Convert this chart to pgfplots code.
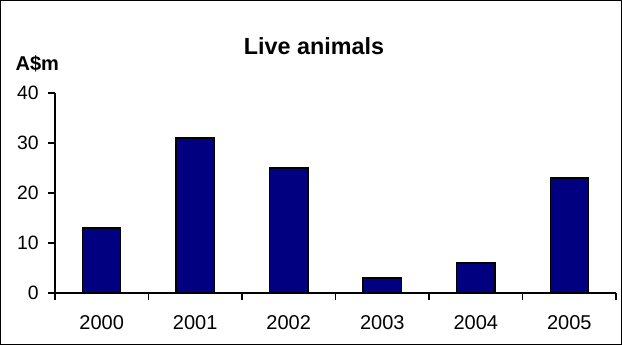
\documentclass[border=0pt]{standalone}
\usepackage{pgfplots}
\pgfplotsset{compat=1.18}
\usepackage{fontspec}
\setmainfont{Liberation Sans}
\definecolor{barnavy}{RGB}{0,0,128}

\begin{document}
\begin{tikzpicture}
% outer frame, 622x345 px at 0.75pt per px
\draw[line width=0.75pt] (0.4pt,0.4pt) rectangle (466.1pt,258.35pt);
\node[anchor=base, font=\fontsize{17.5}{20}\selectfont\bfseries] at (235.5pt,217.5pt) {Live animals};
\node[anchor=base west, font=\fontsize{15}{18}\selectfont\bfseries, inner sep=0pt] at (11.5pt,205.5pt) {A\$m};
\begin{axis}[
    at={(41.25pt,39pt)}, anchor=south west,
    scale only axis,
    width=420.75pt, height=150pt,
    ybar, bar width=0.41,
    xmin=-0.5, xmax=5.5,
    ymin=0, ymax=40,
    ytick={0,10,20,30,40},
    axis x line*=bottom, axis y line*=left,
    axis line style={line width=1.1pt, -},
    tick style={line width=1.1pt, black},
    tick align=outside,
    major tick length=5.25pt,
    xtick={-0.5,0.5,1.5,2.5,3.5,4.5,5.5},
    xticklabels={},
    extra x ticks={0,1,2,3,4,5},
    extra x tick labels={2000,2001,2002,2003,2004,2005},
    extra x tick style={major tick length=0pt,
        xticklabel style={anchor=base, yshift=-27.5pt, font=\fontsize{15}{18}\selectfont}},
    yticklabel style={anchor=east, xshift=-3.5pt, font=\fontsize{14.5}{17}\selectfont},
    /pgf/number format/assume math mode=true,
]
\addplot[fill=barnavy, draw=black, line width=0.9pt] coordinates {
    (0,13) (1,31) (2,25) (3,3) (4,6) (5,23)};
\end{axis}
\end{tikzpicture}
\end{document}
